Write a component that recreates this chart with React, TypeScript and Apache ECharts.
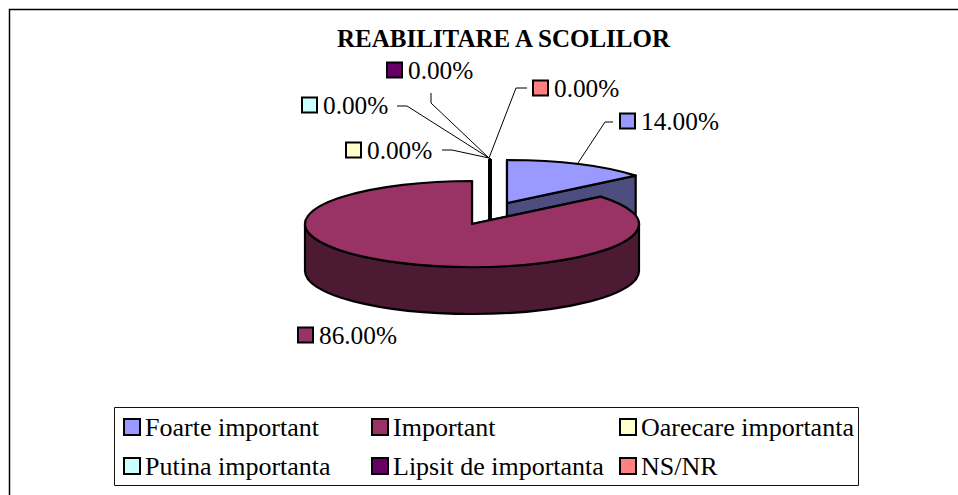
import React, { useEffect, useRef } from "react";
import * as echarts from "echarts";

const chartTitle = "REABILITARE A SCOLILOR";
const categories = ["Foarte important", "Important", "Oarecare importanta", "Putina importanta", "Lipsit de importanta", "NS/NR"];
const values = [14, 86, 0, 0, 0, 0];
const colors = ["#9999ff", "#993366", "#ffffcc", "#ccffff", "#660066", "#ff8080"];
const sideColors = ["#4d4d80", "#4d1a33", "#80806a", "#6a8080", "#330033", "#804040"];
const legendColumns = [[0, 3], [1, 4], [2, 5]];
const legendColumnX = [123, 371, 619];

const FONT = '"Liberation Serif", "Times New Roman", serif';
const LABEL_SIZE = 25.3;
const RX = 167;
const RY = 43;
const DEPTH = 47;
// centre of each slice on the page (exploded pie)
const centres = [[507, 203], [472, 224], [490, 203], [490, 203], [490, 203], [490, 203]];
// marker left, label centre y, leader points
const labelLayout: { x: number; y: number; leader: number[][] | null }[] = [
  { x: 620, y: 121, leader: [[613, 122], [605, 122], [578, 163]] },
  { x: 298, y: 335, leader: null },
  { x: 346, y: 150, leader: [[442, 150], [452, 150], [489, 158]] },
  { x: 302, y: 105, leader: [[397, 106], [407, 106], [489, 158]] },
  { x: 387, y: 70, leader: [[431, 93], [431, 103], [489, 158]] },
  { x: 533, y: 88, leader: [[527, 88], [516, 88], [489, 158]] },
];
// draw order: back slices first, so that the big slice sits in front
const drawOrder = [0, 2, 3, 4, 5, 1];

const total = values.reduce((a, b) => a + b, 0);

function renderSlice(idx: number, api: any) {
  const value = api.value(0) as number;
  const before = values.slice(0, idx).reduce((a, b) => a + b, 0);
  const startDeg = (before / total) * 360;
  const endDeg = startDeg + (value / total) * 360;
  const [cx, cy] = centres[idx];
  const pt = (deg: number, dy = 0) => {
    const r = (deg * Math.PI) / 180;
    return [cx + RX * Math.sin(r), cy - RY * Math.cos(r) + dy];
  };
  const stroke = { stroke: "#000", lineWidth: value === 0 ? 3 : 2.2, lineJoin: "round" };
  const side = { ...stroke, fill: sideColors[idx] };
  const children: any[] = [];
  const cutFace = (deg: number) => {
    const rim = pt(deg);
    const rimD = pt(deg, DEPTH);
    return {
      type: "polygon",
      shape: { points: [[cx, cy], rim, rimD, [cx, cy + DEPTH]] },
      style: side,
    };
  };
  children.push(cutFace(startDeg));
  if (endDeg !== startDeg) children.push(cutFace(endDeg));
  const wallFrom = Math.max(startDeg, 90);
  const wallTo = Math.min(endDeg, 270);
  if (wallTo > wallFrom) {
    const a = pt(wallFrom);
    const b = pt(wallTo);
    const aD = pt(wallFrom, DEPTH);
    const bD = pt(wallTo, DEPTH);
    children.push({
      type: "path",
      shape: {
        pathData: `M${a[0]} ${a[1]}A${RX} ${RY} 0 0 1 ${b[0]} ${b[1]}L${bD[0]} ${bD[1]}A${RX} ${RY} 0 0 0 ${aD[0]} ${aD[1]}Z`,
      },
      style: side,
    });
  }
  const s = pt(startDeg);
  const e = pt(endDeg);
  const large = endDeg - startDeg > 180 ? 1 : 0;
  children.push({
    type: "path",
    shape: {
      pathData:
        endDeg === startDeg
          ? `M${cx} ${cy}L${s[0]} ${s[1]}Z`
          : `M${cx} ${cy}L${s[0]} ${s[1]}A${RX} ${RY} 0 ${large} 1 ${e[0]} ${e[1]}Z`,
    },
    style: { ...stroke, fill: colors[idx] },
  });

  const lay = labelLayout[idx];
  if (lay.leader) {
    children.push({
      type: "polyline",
      shape: { points: lay.leader },
      style: { stroke: "#000", lineWidth: 1, fill: "none" },
    });
  }
  children.push({
    type: "rect",
    shape: { x: lay.x, y: lay.y - 7.5, width: 15, height: 15 },
    style: { fill: colors[idx], stroke: "#000", lineWidth: 2 },
  });
  children.push({
    type: "text",
    style: {
      text: `${value.toFixed(2)}%`,
      x: lay.x + 21,
      y: lay.y,
      font: `${LABEL_SIZE}px ${FONT}`,
      fill: "#000",
      align: "left",
      verticalAlign: "middle",
    },
  });
  return { type: "group", children };
}

export default function App() {
  const ref = useRef<HTMLDivElement>(null);
  useEffect(() => {
    const chart = echarts.init(ref.current!, undefined, { renderer: "svg" });
    chart.setOption({
      animation: false,
      backgroundColor: "#fff",
      title: {
        text: chartTitle,
        left: 498.5,
        top: 21,
        textAlign: "center",
        textStyle: { fontFamily: FONT, fontSize: 25, fontWeight: "bold", color: "#000" },
      },
      legend: legendColumns.map((col, i) => ({
        data: col.map((c) => categories[c]),
        orient: "vertical",
        left: legendColumnX[i],
        top: 414,
        padding: 0,
        itemGap: 13,
        itemWidth: 16,
        itemHeight: 16,
        itemStyle: { borderColor: "#000", borderWidth: 2 },
        icon: "rect",
        selectedMode: false,
        textStyle: { fontFamily: FONT, fontSize: 26, color: "#000" },
      })),
      graphic: [
        {
          type: "rect",
          silent: true,
          z: -1,
          shape: { x: 9.5, y: 9.5, width: 1000, height: 600 },
          style: { fill: "none", stroke: "#000", lineWidth: 1.5 },
        },
        {
          type: "rect",
          silent: true,
          z: -1,
          shape: { x: 114.5, y: 407.5, width: 744, height: 78 },
          style: { fill: "#fff", stroke: "#111", lineWidth: 1 },
        },
      ],
      series: drawOrder.map((idx) => ({
        type: "custom",
        name: categories[idx],
        coordinateSystem: "none",
        silent: true,
        itemStyle: { color: colors[idx] },
        data: [[values[idx]]],
        renderItem: (_p: any, api: any) => renderSlice(idx, api),
      })),
    });
    return () => chart.dispose();
  }, []);
  return <div ref={ref} style={{ position: "fixed", left: 0, top: 0, width: 958, height: 495 }} />;
}
